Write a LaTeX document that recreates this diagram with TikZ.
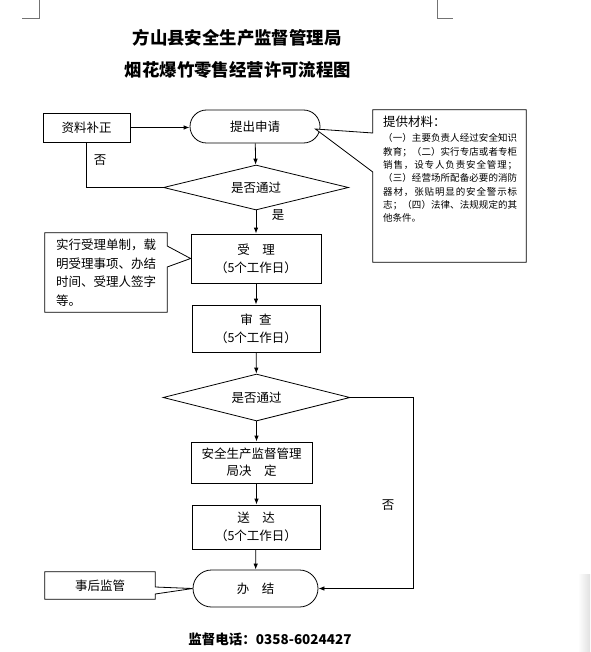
\documentclass[tikz,border=0pt]{standalone}
\usepackage{fontspec}
\setmainfont{Noto Sans CJK SC}
\usetikzlibrary{shapes.geometric,arrows.meta,calc}
\newcommand\fsz[2]{\fontsize{#1}{#2}\selectfont}
\makeatletter
\def\spreadit#1{\makebox[134pt][s]{\spr@a#1\@nil}}
\def\spr@a#1#2\@nil{#1\ifx\relax#2\relax\else\hfil\spr@a#2\@nil\fi}
\makeatother
\begin{document}
\begin{tikzpicture}[x=1pt,y=-1pt,
  ln/.style={line width=0.8pt},
  arr/.style={ln,-{Latex[length=6pt,width=4.5pt]}},
  boxn/.style={draw,ln,inner sep=0,align=center,font=\fsz{12.5}{18}},
  dia/.style={draw,ln,diamond,inner sep=0,aspect=4,font=\fsz{12.5}{14}},
  lbl/.style={inner sep=0,font=\fsz{12.5}{14}},
  cornermark/.style={draw=black!55,line width=0.6pt}
]
\useasboundingbox (0,0) rectangle (590,652);
% page corner marks and shadow
\draw[cornermark] (22,18) -- (39,18) -- (39,0);
\draw[cornermark] (437,0) -- (437,18) -- (453,18);
\fill[left color=white,right color=black!12] (578,574) rectangle (590,652);

% titles
\node[font=\fsz{17.4}{20}\bfseries] (t1) at (237,38) {方山县安全生产监督管理局};
\node[font=\fsz{17.4}{20}\bfseries] (t2) at (238,70) {烟花爆竹零售经营许可流程图};

% main flow
\node[boxn,minimum width=87,minimum height=29] (fix) at (86.5,127.5) {资料补正};
\node[boxn,minimum width=130,minimum height=33,rounded corners=16.5] (apply) at (255,126.5) {提出申请};
\node[dia,minimum width=185,minimum height=45] (d1) at (256,187.5) {是否通过};
\node[boxn,minimum width=130,minimum height=49] (accept) at (256,258.5) {受　理\\（5个工作日）};
\node[boxn,minimum width=128,minimum height=47] (review) at (256,328.5) {审\enspace 查\\（5个工作日）};
\node[dia,minimum width=187,minimum height=47] (d2) at (256.5,397.5) {是否通过};
\node[boxn,minimum width=121,minimum height=41,font=\fsz{12.5}{17}] (decide) at (251.5,462.5) {安全生产监督管理\\局决　定};
\node[boxn,minimum width=128,minimum height=44] (deliver) at (256,527) {送　达\\（5个工作日）};
\node[boxn,minimum width=125,minimum height=37,rounded corners=18.5] (finish) at (255.5,588.5) {办　结};

% callout: materials
\node[inner sep=0,minimum width=153,minimum height=152] (mat) at (449.5,186) {};
\coordinate (mtip) at ($(apply.east)+(-5,2.5)$);
\draw[ln,fill=white] (mat.north west) -- (mat.north east) -- (mat.south east) -- (mat.south west)
  -- (mat.west |- 0,172) -- (mtip) -- (mat.west |- 0,133) -- cycle;
\node[anchor=north west,inner sep=0,font=\fsz{12.5}{14}] (mattitle) at (383,116) {提供材料：};
\node[anchor=north west,inner sep=0,align=left,font=\fsz{9.5}{13.3}] (mattext) at (383,133.5)
  {\spreadit{（一）主要负责人经过安全知识}\\
   \spreadit{教育；（二）实行专店或者专柜}\\
   \spreadit{销售，设专人负责安全管理；}\\
   \spreadit{（三）经营场所配备必要的消防}\\
   \spreadit{器材，张贴明显的安全警示标}\\
   \spreadit{志；（四）法律、法规规定的其}\\
   他条件。};

% callout: acceptance note
\node[inner sep=0,minimum width=122,minimum height=79,align=left,font=\fsz{12.5}{18.5}] (note) at (106,272.5)
  {实行受理单制，载\\明受理事项、办结\\时间、受理人签字\\等。};
\draw[ln] (note.north west) -- (note.north east) -- (note.east |- 0,246) -- (accept.west)
  -- (note.east |- 0,267) -- (note.south east) -- (note.south west) -- cycle;

% callout: after supervision
\node[lbl,minimum width=110,minimum height=27] (after) at (100,585.5) {事后监管};
\draw[ln] (after.north west) -- (after.north east) -- (after.east |- 0,587) -- (finish.west)
  -- (after.east |- 0,594) -- (after.south east) -- (after.south west) -- cycle;

% connectors
\draw[arr] (fix.east) -- (fix.east -| apply.west);
\draw[arr] (apply) -- (d1);
\draw[ln] (d1.west) -| (fix.south);
\draw[arr] (d1) -- (accept);
\draw[arr] (accept) -- (review);
\draw[arr] (review) -- (d2);
\draw[arr] (d2.south) -- (decide.north -| d2.south);
\draw[arr] (decide.south -| d2.south) -- (deliver.north -| d2.south);
\draw[arr] (deliver) -- (finish);
\coordinate (nx) at (413,397.5);
\draw[arr] (d2.east) -- (nx) |- (finish.east);

% labels
\node[lbl] (no1) at (100,160) {否};
\node[lbl] (yes1) at (278,215) {是};
\node[lbl] (no2) at (388,505) {否};

% footer
\node[font=\fsz{13.5}{16}\bfseries] (tel) at (270,639) {监督电话：0358-6024427};
\end{tikzpicture}
\end{document}
